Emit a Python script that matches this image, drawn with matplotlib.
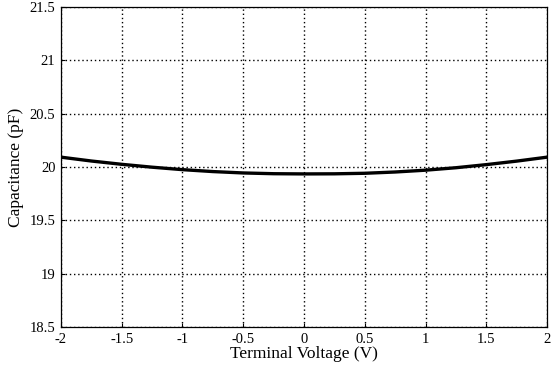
import numpy as np
import matplotlib.pyplot as plt

plt.rcParams['font.family'] = ['Liberation Serif', 'DejaVu Serif']

# terminal voltage (V) vs capacitance (pF)
voltage = [-2.0, -1.75, -1.5, -1.25, -1.0, -0.75, -0.5, -0.25, 0.0,
           0.25, 0.5, 0.75, 1.0, 1.25, 1.5, 1.75, 2.0]
capacitance = [20.092, 20.056, 20.025, 19.998, 19.975, 19.957, 19.944, 19.937, 19.935,
               19.936, 19.941, 19.953, 19.970, 19.993, 20.022, 20.055, 20.092]

xticks = [-2, -1.5, -1, -0.5, 0, 0.5, 1, 1.5, 2]
yticks = [18.5, 19, 19.5, 20, 20.5, 21, 21.5]

fig = plt.figure(figsize=(5.58, 3.67), dpi=100)
ax = fig.add_axes([0.1093, 0.109, 0.871, 0.872])

ax.plot(voltage, capacitance, color='black', linewidth=2.4)

ax.set_xlim(-2, 2)
ax.set_ylim(18.5, 21.5)
ax.set_xticks(xticks)
ax.set_xticklabels(['-2', '-1.5', '-1', '-0.5', '0', '0.5', '1', '1.5', '2'])
ax.set_yticks(yticks)
ax.set_yticklabels(['18.5', '19', '19.5', '20', '20.5', '21', '21.5'])
ax.grid(True, linestyle=(0, (1, 2)), color='black', linewidth=1.0)
ax.tick_params(direction='in', length=3, labelsize=10.5, width=0.8, pad=4)
for s in ax.spines.values():
    s.set_linewidth(0.9)

ax.set_xlabel('Terminal Voltage (V)', fontsize=12.5, labelpad=0)
ax.set_ylabel('Capacitance (pF)', fontsize=12.5, labelpad=4)

fig.savefig('out.png', dpi=100)
